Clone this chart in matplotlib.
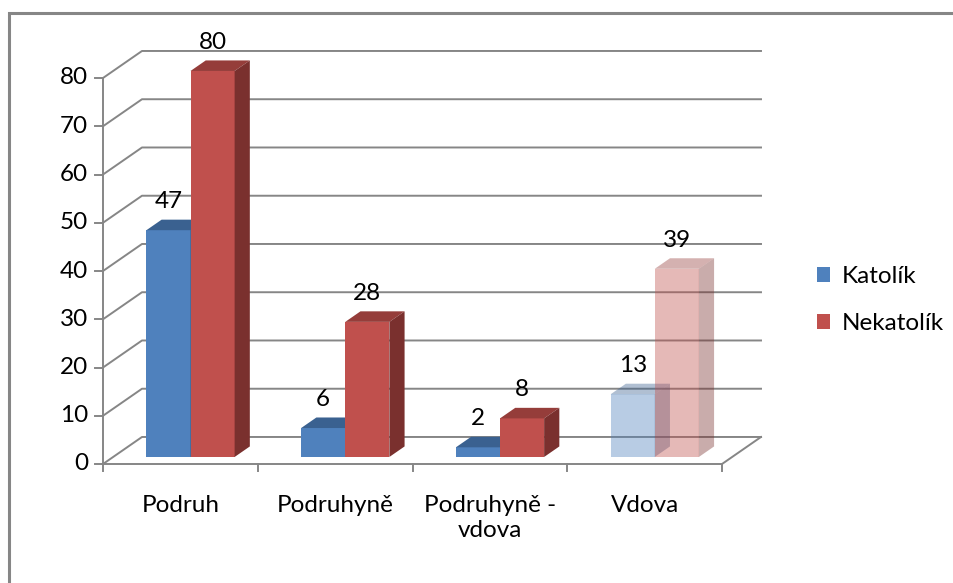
import matplotlib
matplotlib.use("Agg")
import matplotlib.pyplot as plt
from matplotlib.patches import Polygon, Rectangle, Patch

plt.rcParams['font.family'] = ['Lato', 'DejaVu Sans']

categories = ["Podruh", "Podruhyně", "Podruhyně -\nvdova", "Vdova"]
series_names = ["Katolík", "Nekatolík"]
katolik = [47, 6, 2, 13]
nekatolik = [80, 28, 8, 39]
y_ticks = [0, 10, 20, 30, 40, 50, 60, 70, 80]

# styling
front_colors = ["#4F81BD", "#C0504D"]
top_colors = ["#3A6190", "#953D3A"]
side_colors = ["#365A86", "#7A302E"]
cat_alpha = [1.0, 1.0, 1.0, 0.4]   # last group is drawn faded
grid_col = "#868686"
FS = 17.5

# oblique projection: full depth shift in data units
DX, DY = 0.252, 5.6
F0, F1 = 0.26, 0.65     # bar depth start/end as fraction
BW = 0.285              # bar width

W, H = 954, 583
fig = plt.figure(figsize=(W / 100, H / 100), dpi=100)
ax = fig.add_axes([0, 0, 1, 1])
px_x, px_y = 154.75, 4.825   # pixels per data unit
x0_px, y0_px = 103, 464
ax.set_xlim(-x0_px / px_x, (W - x0_px) / px_x)
ax.set_ylim(-(H - y0_px) / px_y, y0_px / px_y)
ax.axis("off")

ncat = len(categories)

# outer frame
fig.add_artist(Rectangle((9 / W, -0.1), 1.2, 1 - 13 / H + 0.1, transform=fig.transFigure,
                         fill=False, edgecolor="#868686", lw=2.2))

# walls / gridlines
for v in y_ticks:
    ax.plot([0, DX, ncat + DX], [v, v + DY, v + DY], color=grid_col, lw=1.4, zorder=1)
    ax.plot([-8 / px_x, 0], [v, v], color=grid_col, lw=1.4, zorder=1)
    ax.text(-15 / px_x, v, str(v), ha="right", va="center", fontsize=FS)
ax.plot([0, 0], [0, y_ticks[-1]], color=grid_col, lw=1.4, zorder=1)
ax.plot([0, ncat, ncat + DX], [0, 0, DY], color=grid_col, lw=1.4, zorder=1)
for i in range(ncat + 1):
    ax.plot([i, i], [0, -7 / px_y], color=grid_col, lw=1.4, zorder=1)

for i, cat in enumerate(categories):
    ax.text(i + 0.5, -31 / px_y, cat, ha="center", va="top", fontsize=FS, linespacing=1.25)


def draw_bar(xl, v, k, alpha, z):
    xr = xl + BW
    front = Rectangle((xl + F0 * DX, F0 * DY), BW, v, facecolor=front_colors[k],
                      edgecolor="none", alpha=alpha, zorder=z)
    top = Polygon([(xl + F0 * DX, v + F0 * DY), (xr + F0 * DX, v + F0 * DY),
                   (xr + F1 * DX, v + F1 * DY), (xl + F1 * DX, v + F1 * DY)],
                  facecolor=top_colors[k], edgecolor="none", alpha=alpha, zorder=z)
    side = Polygon([(xr + F0 * DX, F0 * DY), (xr + F1 * DX, F1 * DY),
                    (xr + F1 * DX, v + F1 * DY), (xr + F0 * DX, v + F0 * DY)],
                   facecolor=side_colors[k], edgecolor="none", alpha=alpha, zorder=z)
    for p in (front, top, side):
        ax.add_patch(p)
    ax.text(xl + BW / 2 + F0 * DX, v + F1 * DY + 3.7, str(v), ha="center", va="center",
            fontsize=FS, zorder=10)


for i in range(ncat):
    for k, vals in enumerate([katolik, nekatolik]):
        xl = i + 0.5 - BW + k * BW
        draw_bar(xl, vals[i], k, cat_alpha[i], 3 + k)

handles = [Patch(facecolor=c, edgecolor="none") for c in front_colors]
ax.legend(handles, series_names, loc="upper left", bbox_to_anchor=(817 / W, 1 - 266 / H),
          frameon=False, fontsize=FS, handlelength=0.55, handleheight=0.55,
          handletextpad=0.45, labelspacing=1.07, borderpad=0, borderaxespad=0)

fig.savefig("out.png", dpi=100)
